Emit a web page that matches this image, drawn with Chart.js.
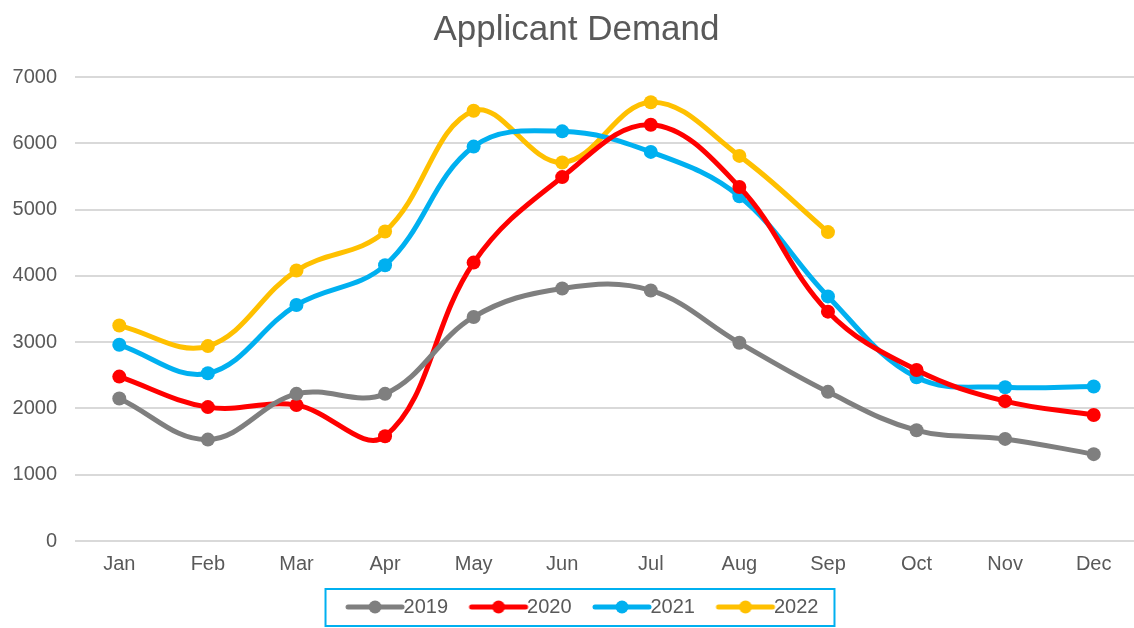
<!DOCTYPE html>
<html>
<head>
<meta charset="utf-8">
<script src="https://cdn.jsdelivr.net/npm/chart.js@4"></script>
<style>
  html, body { margin: 0; padding: 0; background: #fff; overflow: hidden; }
  #wrap { width: 1145px; height: 628px; position: relative; }
</style>
</head>
<body>
<div id="wrap"><canvas id="myChart"></canvas></div>
<script>
const months = ["Jan", "Feb", "Mar", "Apr", "May", "Jun", "Jul", "Aug", "Sep", "Oct", "Nov", "Dec"];
const years = ["2019", "2020", "2021", "2022"];
const demand_2019 = [2150, 1530, 2220, 2220, 3380, 3810, 3780, 2990, 2250, 1670, 1540, 1310];
const demand_2020 = [2480, 2020, 2050, 1580, 4200, 5490, 6280, 5340, 3460, 2580, 2110, 1900];
const demand_2021 = [2960, 2530, 3560, 4160, 5950, 6180, 5870, 5200, 3690, 2470, 2320, 2330];
const demand_2022 = [3250, 2940, 4080, 4670, 6490, 5710, 6620, 5810, 4660];
const y_ticks = [0, 1000, 2000, 3000, 4000, 5000, 6000, 7000];

const colors = ["#7f7f7f", "#ff0000", "#00b0f0", "#ffc000"];
const text_color = "#595959";
const font_family = "'Liberation Sans', Arial, sans-serif";

// small line-with-dot picture for the legend
const legendMarker = (color) => {
    const c = document.createElement("canvas");
    c.width = 84;
    c.height = 16;
    const g = c.getContext("2d");
    g.strokeStyle = color;
    g.lineWidth = 5;
    g.lineCap = "round";
    g.beginPath();
    g.moveTo(26, 8);
    g.lineTo(80, 8);
    g.stroke();
    g.fillStyle = color;
    g.beginPath();
    g.arc(53, 8, 6.5, 0, Math.PI * 2);
    g.fill();
    return c;
}

const makeSet = (label, data, color) => ({
    label: label,
    data: data,
    borderColor: color,
    backgroundColor: color,
    borderWidth: 5,
    pointRadius: 7,
    pointHoverRadius: 7,
    pointBorderWidth: 0,
    pointBackgroundColor: color,
    pointStyle: "circle",
    tension: 0.38,
    fill: false,
});

// blue frame round the legend
const legendBox = {
    id: "legendBox",
    afterDraw(chart) {
        const boxes = chart.legend.legendHitBoxes;
        if (!boxes || !boxes.length) return;
        const left = Math.min(...boxes.map(b => b.left)) - 9;
        const right = Math.max(...boxes.map(b => b.left + b.width)) + 16;
        const mid = boxes[0].top + boxes[0].height / 2;
        const ctx = chart.ctx;
        ctx.save();
        ctx.strokeStyle = "#00b0f0";
        ctx.lineWidth = 2;
        ctx.strokeRect(left, mid - 18, right - left, 37);
        ctx.restore();
    }
};

const ctx = document.getElementById("myChart");

new Chart(ctx, {
    type: "line",
    data: {
        labels: months,
        datasets: [
            makeSet(years[0], demand_2019, colors[0]),
            makeSet(years[1], demand_2020, colors[1]),
            makeSet(years[2], demand_2021, colors[2]),
            makeSet(years[3], demand_2022, colors[3]),
        ]
    },
    options: {
        responsive: true,
        maintainAspectRatio: false,
        animation: false,
        layout: {
            padding: { left: 12, right: 4, top: 0, bottom: 1 }
        },
        plugins: {
            title: {
                display: true,
                text: "Applicant Demand",
                color: text_color,
                font: { family: font_family, size: 35, weight: "normal" },
                padding: { top: 9, bottom: 26 }
            },
            legend: {
                position: "bottom",
                labels: {
                    usePointStyle: true,
                    pointStyleWidth: 59,
                    color: text_color,
                    font: { family: font_family, size: 20 },
                    padding: 10,
                    generateLabels: (chart) => {
                        const items = Chart.defaults.plugins.legend.labels.generateLabels(chart);
                        items.forEach((item, i) => { item.pointStyle = legendMarker(colors[i]); });
                        return items;
                    }
                }
            },
            tooltip: { enabled: false }
        },
        scales: {
            x: {
                offset: true,
                grid: { display: false, drawTicks: false },
                border: { display: false },
                ticks: {
                    color: text_color,
                    font: { family: font_family, size: 20 },
                    padding: 11,
                    maxRotation: 0
                }
            },
            y: {
                min: 0,
                max: 7000,
                afterFit: (scale) => { scale.width = 63; },
                afterBuildTicks: (scale) => { scale.ticks = y_ticks.map(v => ({ value: v })); },
                grid: { color: "#d9d9d9", lineWidth: 2, drawTicks: false },
                border: { display: false },
                ticks: {
                    color: text_color,
                    font: { family: font_family, size: 20 },
                    padding: 18,
                    callback: (value) => String(value)
                }
            }
        }
    },
    plugins: [legendBox]
});
</script>
</body>
</html>
